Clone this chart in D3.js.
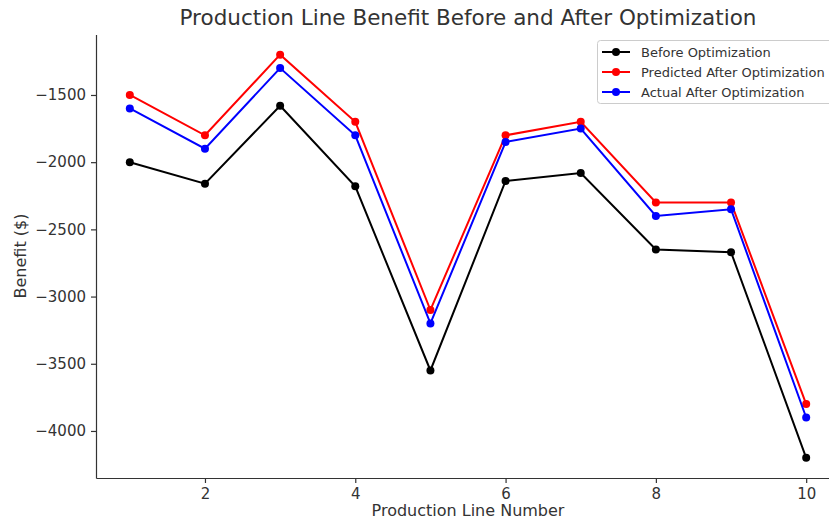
<!DOCTYPE html>
<html><head><meta charset="utf-8">
<script src="https://cdn.jsdelivr.net/npm/d3@7"></script>
<style>body{margin:0;background:#fff;} svg{display:block;font-family:"DejaVu Sans",sans-serif;}</style>
</head><body><svg id="c" width="829" height="521"></svg>
<script>
const lines = [1,2,3,4,5,6,7,8,9,10];
const before = [-2000,-2160,-1580,-2180,-3550,-2140,-2080,-2650,-2670,-4200];
const predicted = [-1500,-1800,-1200,-1700,-3100,-1800,-1700,-2300,-2300,-3800];
const actual = [-1600,-1900,-1300,-1800,-3200,-1850,-1750,-2400,-2350,-3900];
const seriesNames = ["Before Optimization","Predicted After Optimization","Actual After Optimization"];
const seriesColors = ["#000000","#ff0000","#0000ff"];
const xTicks = [2,4,6,8,10];
const yTicks = [-1500,-2000,-2500,-3000,-3500,-4000];

const svg = d3.select("#c");
const L=96, R=840, T=34.5, B=478;
const x = d3.scaleLinear().domain([0.55,10.45]).range([L,R]);
const y = d3.scaleLinear().domain([-4350,-1050]).range([B,T]);
const txt="#333";

const xa = svg.append("g").attr("transform",`translate(0,${B})`)
  .call(d3.axisBottom(x).tickValues(xTicks).tickSizeInner(5).tickSizeOuter(0).tickPadding(5).tickFormat(d3.format("d")));
const ya = svg.append("g").attr("transform",`translate(${L},0)`)
  .call(d3.axisLeft(y).tickValues(yTicks).tickSizeInner(5).tickSizeOuter(0).tickPadding(5).tickFormat(d=>"\u2212"+Math.abs(d)));
[xa,ya].forEach(a=>{
  a.selectAll("path,line").attr("stroke","#333").attr("stroke-width",1.2);
  a.selectAll("text").attr("fill",txt).style("font-size","15px").style("font-family","DejaVu Sans");
});

const data=[before,predicted,actual];
const lineGen = d3.line().x((d,i)=>x(lines[i])).y(d=>y(d));
data.forEach((s,k)=>{
  svg.append("path").datum(s).attr("d",lineGen).attr("fill","none")
    .attr("stroke",seriesColors[k]).attr("stroke-width",2);
  svg.append("g").selectAll("circle").data(s).join("circle")
    .attr("cx",(d,i)=>x(lines[i])).attr("cy",d=>y(d)).attr("r",4).attr("fill",seriesColors[k]);
});

svg.append("text").attr("x",468).attr("y",25).attr("text-anchor","middle")
  .attr("fill",txt).style("font-size","21.5px").text("Production Line Benefit Before and After Optimization");
svg.append("text").attr("x",468).attr("y",516).attr("text-anchor","middle")
  .attr("fill",txt).style("font-size","16px").text("Production Line Number");
svg.append("text").attr("transform","translate(26,256) rotate(-90)").attr("text-anchor","middle")
  .attr("fill",txt).style("font-size","16px").text("Benefit ($)");

const lg = svg.append("g");
lg.append("rect").attr("x",597.5).attr("y",40.5).attr("width",245).attr("height",63).attr("rx",3)
  .attr("fill","#fff").attr("stroke","#ccc");
seriesNames.forEach((n,k)=>{
  const yy=52+k*20;
  lg.append("line").attr("x1",602).attr("x2",630).attr("y1",yy).attr("y2",yy).attr("stroke",seriesColors[k]).attr("stroke-width",2);
  lg.append("circle").attr("cx",616).attr("cy",yy).attr("r",4).attr("fill",seriesColors[k]);
  lg.append("text").attr("x",641).attr("y",yy+4.5).attr("fill",txt).style("font-size","13px").text(n);
});
</script></body></html>
